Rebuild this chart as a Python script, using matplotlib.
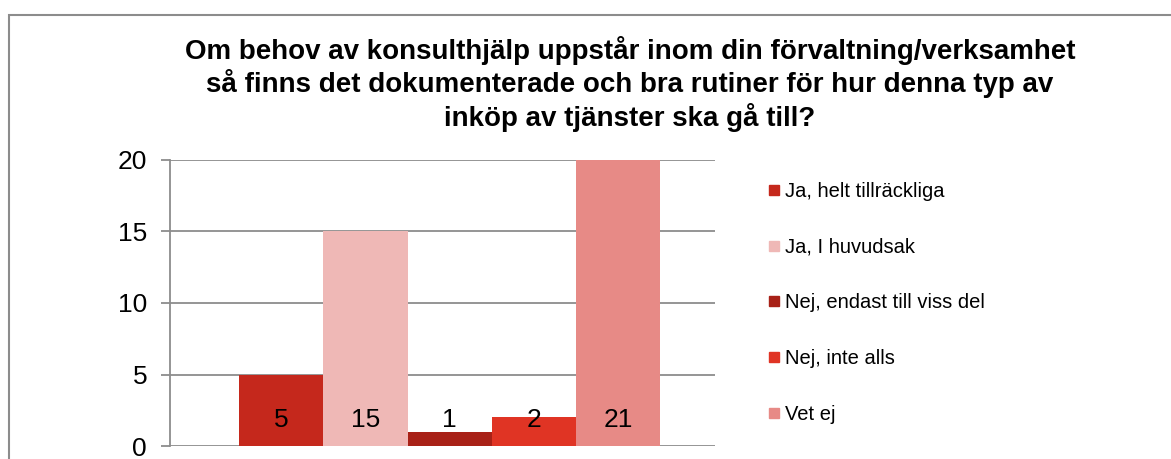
import matplotlib
matplotlib.use("Agg")
import matplotlib.pyplot as plt
from matplotlib.lines import Line2D
from matplotlib.patches import Rectangle

title = ("Om behov av konsulthjälp uppstår inom din förvaltning/verksamhet\n"
         "så finns det dokumenterade och bra rutiner för hur denna typ av\n"
         "inköp av tjänster ska gå till?")
answers = ["Ja, helt tillräckliga", "Ja, I huvudsak", "Nej, endast till viss del",
           "Nej, inte alls", "Vet ej"]
counts = [5, 15, 1, 2, 21]
colors = ["#C5281C", "#EFB8B6", "#A82117", "#E03424", "#E78A86"]
yticks = [0, 5, 10, 15, 20]

plt.rcParams['font.family'] = ['Liberation Sans', 'DejaVu Sans']

fig = plt.figure(figsize=(11.71, 4.59), dpi=100)
# outer chart frame (cut off at right and bottom like the screenshot)
fig.patches.append(Rectangle((9 / 1171, -0.1), 1.2, 1.1 - 15 / 459,
                             transform=fig.transFigure, fill=False,
                             edgecolor="#8C8C8C", linewidth=1.5))

ax = fig.add_axes([170 / 1171, 13 / 459, 545 / 1171, 286 / 459])

for i, (v, c) in enumerate(zip(counts, colors)):
    ax.bar(i, v, width=1.0, color=c, zorder=2)
    ax.text(i, 1.8, str(v), ha="center", va="center", fontsize=19, zorder=3)

ax.set_xlim(-1.32, 5.15)
ax.set_ylim(0, 20)
ax.set_yticks(yticks)
ax.set_xticks([])
ax.tick_params(axis="y", labelsize=19, length=6.5, width=1.3, color="#8C8C8C", pad=10)
ax.yaxis.grid(True, color="#8C8C8C", linewidth=1.3, zorder=1)
ax.set_axisbelow(True)
for s in ["top", "right", "bottom"]:
    ax.spines[s].set_visible(False)
ax.spines["left"].set_color("#8C8C8C")
ax.spines["left"].set_linewidth(1.3)

fig.text(630 / 1171, 1 - 84 / 459, title, ha="center", va="center",
         fontsize=20, fontweight="bold", linespacing=1.2)

handles = [Line2D([], [], marker="s", linestyle="none", markersize=7,
                  markerfacecolor=c, markeredgecolor=c) for c in colors]
fig.legend(handles, answers, loc="upper left",
           bbox_to_anchor=(758 / 1171, 1 - 172 / 459), frameon=False,
           prop={"size": 14.5},
           handlelength=0.6, handletextpad=0.25, labelspacing=1.82, borderpad=0)

fig.savefig("out.png", dpi=100)
